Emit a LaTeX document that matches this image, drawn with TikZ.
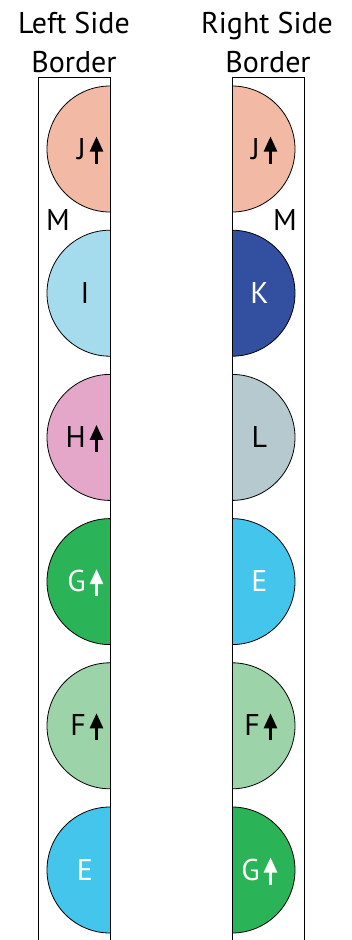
\documentclass[tikz,border=0pt]{standalone}
\usepackage{fontspec}
\setmainfont{PT Sans}
\usepackage{tikz}
\usetikzlibrary{arrows.meta}

\definecolor{salmon}{HTML}{F2B9A4}
\definecolor{skyblue}{HTML}{A4DCEE}
\definecolor{rose}{HTML}{E4A7CA}
\definecolor{leaf}{HTML}{2BB457}
\definecolor{mint}{HTML}{9DD3A9}
\definecolor{cyan}{HTML}{44C5EC}
\definecolor{navy}{HTML}{334FA0}
\definecolor{slate}{HTML}{B6C9CF}

\tikzset{
    border/.style={line width=1pt},
    halfdisk/.style={line width=0.8pt},
    lbl/.style={inner sep=0pt, font=\fontsize{30}{32}\selectfont},
    uparr/.style={line width=2.5pt, -{Triangle[length=15pt,width=13pt]}},
}

\begin{document}
\begin{tikzpicture}[x=1pt,y=-1pt]
    \useasboundingbox (0,0) rectangle (352,940);

    % Headings
    \node[lbl, anchor=base] (headL1) at (74,33) {Left Side};
    \node[lbl, anchor=base] (headL2) at (74,72) {Border};
    \node[lbl, anchor=base] (headR1) at (267,33) {Right Side};
    \node[lbl, anchor=base] (headR2) at (268,72) {Border};

    % Left column
    \foreach \nm/\i/\col/\tc/\arr in {J/0/salmon/black/1, I/1/skyblue/black/0,
        H/2/rose/black/1, G/3/leaf/white/1, F/4/mint/black/1, E/5/cyan/white/0} {
        \pgfmathsetmacro\cy{149+144.2*\i}
        % Half disk against the border
        \fill[\col] (110,\cy+63) arc[start angle=90, end angle=270, radius=63] -- cycle;
        \draw[halfdisk] (110,\cy+63) arc[start angle=90, end angle=270, radius=63];
        % Letter, with an arrow where there is one
        \ifnum\arr=1
            \node[lbl, text=\tc, anchor=base east] (L\nm) at (86,\cy+10) {\nm};
            \draw[uparr, \tc] ([xshift=10.5pt,yshift=-4.5pt]L\nm.base east) -- ++(0,-27);
        \else
            \node[lbl, text=\tc, anchor=base] (L\nm) at (85,\cy+10) {\nm};
        \fi
    }

    % Right column
    \foreach \nm/\i/\col/\tc/\arr in {J/0/salmon/black/1, K/1/navy/white/0,
        L/2/slate/black/0, E/3/cyan/white/0, F/4/mint/black/1, G/5/leaf/white/1} {
        \pgfmathsetmacro\cy{149+144.2*\i}
        % Half disk against the border
        \fill[\col] (232,\cy-63) arc[start angle=-90, end angle=90, radius=63] -- cycle;
        \draw[halfdisk] (232,\cy-63) arc[start angle=-90, end angle=90, radius=63];
        % Letter, with an arrow where there is one
        \ifnum\arr=1
            \node[lbl, text=\tc, anchor=base east] (R\nm) at (260,\cy+10) {\nm};
            \draw[uparr, \tc] ([xshift=10.5pt,yshift=-4.5pt]R\nm.base east) -- ++(0,-27);
        \else
            \node[lbl, text=\tc, anchor=base] (R\nm) at (259.5,\cy+10) {\nm};
        \fi
    }

    % Borders, open at the bottom
    \draw[border] (38,940) -- (38,77) -- (110,77) -- (110,940);
    \draw[border] (232,940) -- (232,77) -- (304,77) -- (304,940);

    % Margin marks
    \node[lbl] (mL) at (58,220) {M};
    \node[lbl] (mR) at (285,220) {M};
\end{tikzpicture}
\end{document}
